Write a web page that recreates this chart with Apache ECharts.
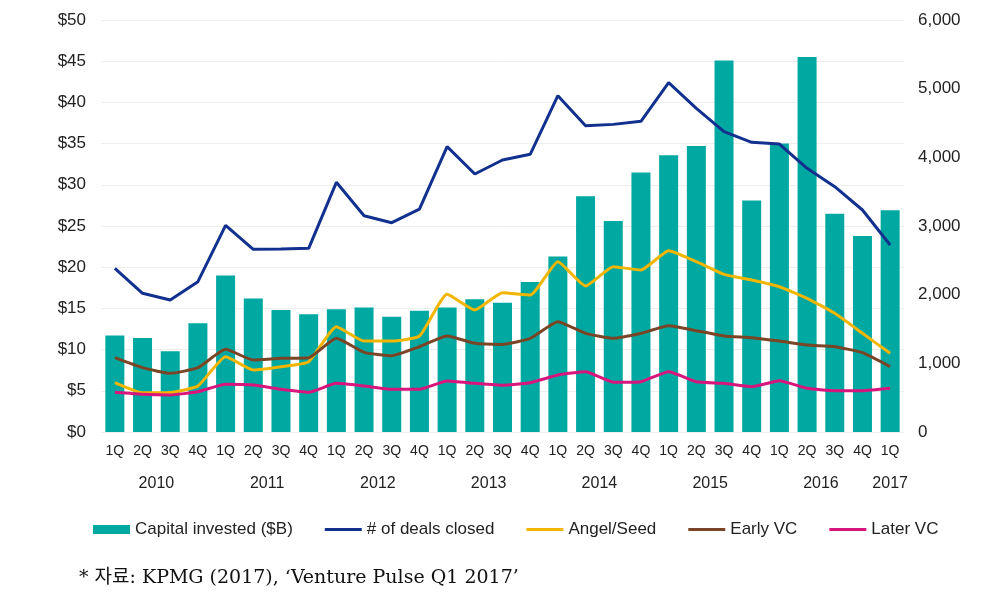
<!DOCTYPE html>
<html>
<head>
<meta charset="utf-8">
<script src="https://cdn.jsdelivr.net/npm/echarts@6/dist/echarts.min.js"></script>
<style>
html,body{margin:0;padding:0;background:#fff;}
#chart{width:1000px;height:600px;}
</style>
</head>
<body>
<div id="chart"></div>
<script>
var quarters = ['1Q','2Q','3Q','4Q','1Q','2Q','3Q','4Q','1Q','2Q','3Q','4Q','1Q','2Q','3Q','4Q','1Q','2Q','3Q','4Q','1Q','2Q','3Q','4Q','1Q','2Q','3Q','4Q','1Q'];
var quarterYears = ['2010','2010','2010','2010','2011','2011','2011','2011','2012','2012','2012','2012','2013','2013','2013','2013','2014','2014','2014','2014','2015','2015','2015','2015','2016','2016','2016','2016','2017'];
var yearLabels = ['2010','2011','2012','2013','2014','2015','2016','2017'];
var leftTicks = [0,5,10,15,20,25,30,35,40,45,50];
var rightTicks = [0,1000,2000,3000,4000,5000,6000];

var capitalInvested = [11.7,11.4,9.8,13.2,19.0,16.2,14.8,14.3,14.9,15.1,14.0,14.7,15.1,16.1,15.7,18.2,21.3,28.6,25.6,31.5,33.6,34.7,45.1,28.1,35.0,45.5,26.5,23.8,26.9];
var dealsClosed = [2383,2020,1922,2189,3010,2660,2665,2675,3636,3150,3048,3247,4155,3757,3961,4044,4898,4461,4480,4524,5087,4714,4373,4219,4194,3840,3572,3233,2723];
var angelSeed = [718,570,575,670,1097,903,951,1024,1534,1325,1325,1398,2005,1777,2029,1995,2480,2126,2407,2359,2640,2480,2296,2213,2116,1947,1728,1437,1146];
var earlyVC = [1082,937,854,937,1204,1048,1073,1082,1364,1160,1111,1242,1398,1291,1276,1364,1606,1437,1364,1437,1548,1475,1398,1374,1325,1267,1242,1155,951];
var laterVC = [578,549,539,587,694,684,622,578,709,670,622,622,743,709,680,718,830,878,724,733,878,733,709,660,747,636,601,601,636];

var sourceText = '* 자료: KPMG (2017), \u2018Venture Pulse Q1 2017\u2019';

var FONT = '"Liberation Sans", Arial, sans-serif';
var LINE_ICON = 'path://M0,0 L40,0 L40,3.4 L0,3.4 Z';
var chart = echarts.init(document.getElementById('chart'), null, {renderer: 'canvas'});

function lineSeries(name, data, color, smooth) {
  return {
    name: name, type: 'line', yAxisIndex: 1, data: data,
    symbol: 'none', smooth: smooth,
    lineStyle: {width: 3, color: color}, itemStyle: {color: color}, z: 3
  };
}

var option = {
  animation: false,
  backgroundColor: '#ffffff',
  title: {
    text: sourceText, left: 74, top: 564,
    textStyle: {fontFamily: '"DejaVu Serif", "Liberation Serif", "Noto Sans CJK KR", serif', fontSize: 19, fontWeight: 'normal', color: '#111'}
  },
  legend: {
    left: 88, top: 516,
    itemWidth: 37, itemHeight: 9, itemGap: 32,
    textStyle: {fontFamily: FONT, fontSize: 17, color: '#222'},
    data: [
      {name: 'Capital invested ($B)', icon: 'rect'},
      {name: '# of deals closed', icon: LINE_ICON},
      {name: 'Angel/Seed', icon: LINE_ICON},
      {name: 'Early VC', icon: LINE_ICON},
      {name: 'Later VC', icon: LINE_ICON}
    ]
  },
  grid: {left: 101, right: 96, top: 20, bottom: 168},
  xAxis: {
    type: 'category', data: quarters,
    axisLine: {show: false}, axisTick: {show: false},
    axisLabel: {interval: 0, fontFamily: FONT, fontSize: 14, color: '#222', margin: 12}
  },
  yAxis: [
    {
      type: 'value', min: leftTicks[0], max: leftTicks[leftTicks.length-1], interval: 5,
      axisLine: {show: false}, axisTick: {show: false},
      axisLabel: {formatter: function(v){ return '$' + v; }, fontFamily: FONT, fontSize: 17, color: '#222', margin: 15},
      splitLine: {lineStyle: {color: '#eeeeee', width: 1}}
    },
    {
      type: 'value', min: rightTicks[0], max: rightTicks[rightTicks.length-1], interval: 1000,
      axisLine: {show: false}, axisTick: {show: false},
      axisLabel: {formatter: function(v){ return v.toLocaleString('en-US'); }, fontFamily: FONT, fontSize: 17, color: '#222', margin: 14},
      splitLine: {show: false}
    }
  ],
  series: [
    {
      name: 'Capital invested ($B)', type: 'bar', yAxisIndex: 0, data: capitalInvested,
      barWidth: 19, itemStyle: {color: '#00A8A2'}, z: 2
    },
    lineSeries('# of deals closed', dealsClosed, '#12318F', false),
    lineSeries('Angel/Seed', angelSeed, '#F2B600', 0.15),
    lineSeries('Early VC', earlyVC, '#7A4526', 0.15),
    lineSeries('Later VC', laterVC, '#D8157D', 0.15)
  ]
};
chart.setOption(option);

// Year labels: centred under the quarters that belong to each year
var graphics = [];
var yBase = chart.convertToPixel({yAxisIndex: 0}, 0);
yearLabels.forEach(function(y) {
  var first = quarterYears.indexOf(y), last = quarterYears.lastIndexOf(y);
  var px1 = chart.convertToPixel({xAxisIndex: 0}, first);
  var px2 = chart.convertToPixel({xAxisIndex: 0}, last);
  graphics.push({
    type: 'text', x: (px1 + px2) / 2, y: yBase + 52,
    style: {text: y, fontFamily: FONT, fontSize: 16, fill: '#222', align: 'center', verticalAlign: 'middle'}
  });
});
chart.setOption({graphic: graphics});
</script>
</body>
</html>
